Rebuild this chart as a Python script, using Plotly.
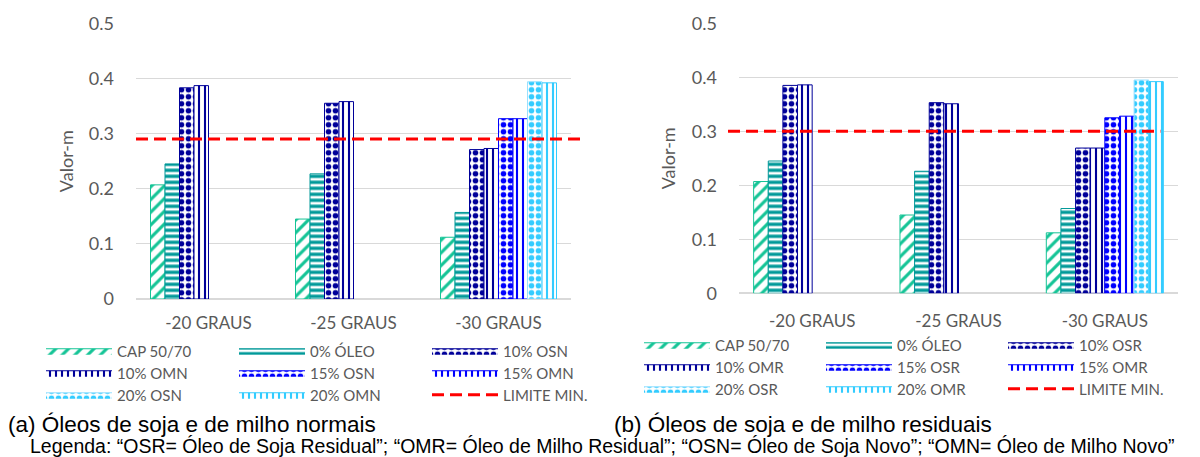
import plotly.graph_objects as go

categories = ["-20 GRAUS", "-25 GRAUS", "-30 GRAUS"]

# (a) normal oils
names_a = ["CAP 50/70", "0% ÓLEO", "10% OSN", "10% OMN", "15% OSN", "15% OMN", "20% OSN", "20% OMN"]
cap_a = [0.207, 0.145, 0.112]
oleo0_a = [0.245, 0.227, 0.157]
osn10 = [0.383, 0.355, 0.271]
omn10 = [0.387, 0.358, 0.273]
osn15 = [None, None, 0.327]
omn15 = [None, None, 0.327]
osn20 = [None, None, 0.394]
omn20 = [None, None, 0.392]
limit_a = 0.29

# (b) residual oils
names_b = ["CAP 50/70", "0% ÓLEO", "10% OSR", "10% OMR", "15% OSR", "15% OMR", "20% OSR", "20% OMR"]
cap_b = [0.207, 0.145, 0.112]
oleo0_b = [0.245, 0.226, 0.157]
osr10 = [0.385, 0.353, 0.269]
omr10 = [0.386, 0.351, 0.269]
osr15 = [None, None, 0.325]
omr15 = [None, None, 0.328]
osr20 = [None, None, 0.395]
omr20 = [None, None, 0.392]
limit_b = 0.30

limit_name = "LIMITE MIN."
caption_a = "(a) Óleos de soja e de milho normais"
caption_b = "(b) Óleos de soja e de milho residuais"
caption_leg = ("Legenda: “OSR= Óleo de Soja Residual”; “OMR= Óleo de Milho Residual”; "
               "“OSN= Óleo de Soja Novo”; “OMN= Óleo de Milho Novo”")

# styles: (fg colour, border colour, shape, size, solidity)
styles = [
    ("#14C496", "#14C496", "/", 9, 0.35),
    ("#009999", "#009999", "-", 6, 0.55),
    ("#000099", "#000099", ".", 7, 0.5),
    ("#000099", "#000099", "|", 6, 0.35),
    ("#0000FF", "#0000FF", ".", 7, 0.5),
    ("#0000FF", "#0000FF", "|", 6, 0.35),
    ("#33CCFF", "#99E0FF", ".", 7, 0.5),
    ("#33CCFF", "#33CCFF", "|", 6, 0.35),
]

FONT = "Lato"
GREY = "#595959"
OFF = 8                      # page body margin of the html page
W, H = 1200 - OFF, 457 - OFF
LIMIT_DASH = dict(color="#FF0000", width=3, dash="12px,6px")
ITEMW = 66


def fx(s):
    return (s - OFF) / W


def fy(s):
    return 1 - (s - OFF) / H


fig = go.Figure()

series_a = [cap_a, oleo0_a, osn10, omn10, osn15, omn15, osn20, omn20]
series_b = [cap_b, oleo0_b, osr10, omr10, osr15, omr15, osr20, omr20]

# each panel's legend is split in three rows (3 legends) so that it wraps like the reference
panels = [
    (names_a, series_a, "x", "y", ["legend", "legend2", "legend3"]),
    (names_b, series_b, "x2", "y2", ["legend4", "legend5", "legend6"]),
]
for names, series, xa, ya, legs in panels:
    for i, (name, vals, st) in enumerate(zip(names, series, styles)):
        fg, border, shape, size, sol = st
        pat = dict(shape=shape, fgcolor=fg, bgcolor="white", size=size, solidity=sol, fillmode="replace")
        fig.add_trace(go.Bar(
            x=categories, y=vals, name=name, xaxis=xa, yaxis=ya, showlegend=False,
            legendgroup=f"{xa}-{name}",
            marker=dict(color=fg, line=dict(color=border, width=1), pattern=pat),
        ))
        # legend-only entry giving a wide patterned swatch like the reference
        fig.add_trace(go.Scatter(
            x=[None], y=[None], name=name, xaxis=xa, yaxis=ya, legend=legs[i // 3],
            legendgroup=f"{xa}-{name}", mode="lines", fill="toself",
            fillcolor=fg, fillpattern=pat, line=dict(color=border, width=1),
        ))
    fig.add_trace(go.Scatter(
        x=[None], y=[None], mode="lines", name=limit_name, xaxis=xa, yaxis=ya, legend=legs[2],
        line=LIMIT_DASH,
    ))

# limit lines
fig.add_shape(type="line", xref="x domain", yref="y", x0=0, x1=1.023, y0=limit_a, y1=limit_a,
              line=LIMIT_DASH)
fig.add_shape(type="line", xref="x2 domain", yref="y2", x0=-0.025, x1=0.96, y0=limit_b, y1=limit_b,
              line=LIMIT_DASH)


def y_axis(standoff):
    return dict(range=[0, 0.5], dtick=0.1, showgrid=True, gridcolor="#D9D9D9", gridwidth=1,
                zeroline=True, zerolinecolor="#D9D9D9", zerolinewidth=2,
                tickfont=dict(family=FONT, size=18, color=GREY), ticks="",
                ticklabelstandoff=21, showline=False,
                title=dict(text="Valor-m", font=dict(family=FONT, size=18, color=GREY), standoff=standoff))


def x_axis(standoff):
    return dict(showgrid=False, zeroline=False, ticks="", showline=False,
                tickfont=dict(family=FONT, size=17, color=GREY), ticklabelstandoff=standoff)


legend_common = dict(orientation="h", xanchor="left", yanchor="middle", itemwidth=ITEMW,
                     entrywidthmode="pixels", font=dict(family=FONT, size=15, color=GREY),
                     bgcolor="rgba(0,0,0,0)", traceorder="normal", itemclick=False,
                     itemdoubleclick=False, borderwidth=0)

legend_layout = {}
rows_a = [351, 373, 395]
rows_b = [345, 367, 389]
for k, yc in enumerate(rows_a):
    key = "legend" if k == 0 else f"legend{k + 1}"
    legend_layout[key] = dict(x=fx(117 - ITEMW - 10), y=fy(yc), entrywidth=193 - 5 - ITEMW - 10,
                              **legend_common)
for k, yc in enumerate(rows_b):
    key = f"legend{k + 4}"
    legend_layout[key] = dict(x=fx(715 - ITEMW - 10), y=fy(yc), entrywidth=182 - 5 - ITEMW - 10,
                              **legend_common)

fig.update_layout(
    width=W, height=H, margin=dict(l=0, r=0, t=0, b=0, autoexpand=False),
    paper_bgcolor="white", plot_bgcolor="white",
    barmode="group", bargap=0.2, bargroupgap=0,
    xaxis=dict(domain=[fx(136), fx(571)], anchor="y", **x_axis(12)),
    yaxis=dict(domain=[fy(299), fy(23.3)], anchor="x", **y_axis(10)),
    xaxis2=dict(domain=[fx(739), fx(1178)], anchor="y2", **x_axis(16)),
    yaxis2=dict(domain=[fy(293.3), fy(23.3)], anchor="x2", **y_axis(11)),
    showlegend=True,
    annotations=[
        dict(text=caption_a, xref="paper", yref="paper", x=fx(6), y=fy(424),
             xanchor="left", yanchor="middle", showarrow=False,
             font=dict(family="Liberation Sans", size=22.5, color="black")),
        dict(text=caption_b, xref="paper", yref="paper", x=fx(612), y=fy(424),
             xanchor="left", yanchor="middle", showarrow=False,
             font=dict(family="Liberation Sans", size=22.5, color="black")),
        dict(text=caption_leg, xref="paper", yref="paper", x=fx(28), y=fy(446),
             xanchor="left", yanchor="middle", showarrow=False,
             font=dict(family="Liberation Sans", size=19.5, color="black")),
    ],
    **legend_layout,
)

fig.write_html("out.html")
